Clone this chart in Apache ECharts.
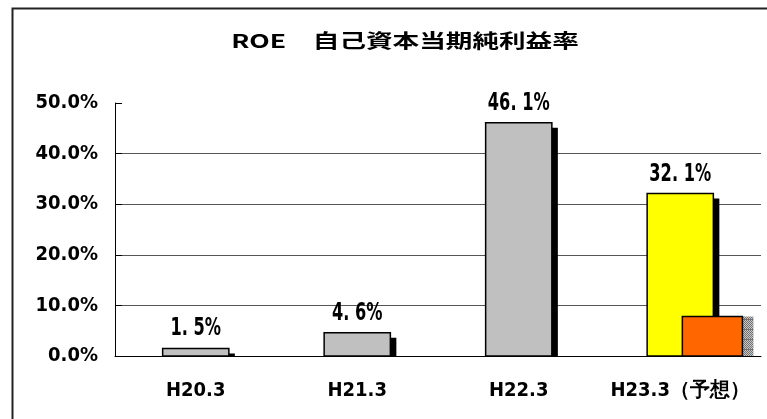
<!DOCTYPE html>
<html>
<head>
<meta charset="utf-8">
<script src="https://cdn.jsdelivr.net/npm/echarts@6/dist/echarts.min.js"></script>
<style>
  html, body { margin: 0; padding: 0; background: #fff; }
  #main { width: 767px; height: 419px; }
</style>
</head>
<body>
<div id="main"></div>
<script>
// ROE 自己資本当期純利益率
const categories = ['H20.3', 'H21.3', 'H22.3', 'H23.3（予想）'];
const roeValues = [1.5, 4.6, 46.1, 32.1];
const roeLabels = ['1. 5%', '4. 6%', '46. 1%', '32. 1%'];
const barColors = ['#c0c0c0', '#c0c0c0', '#c0c0c0', '#ffff00'];
const forecastValues = [null, null, null, 7.8];
const yMin = 0, yMax = 50, yStep = 10;

const numFont = '"DejaVu Sans Condensed", "DejaVu Sans", sans-serif';

// 網掛けの影
const hatch = document.createElement('canvas');
hatch.width = 2;
hatch.height = 10;
const hc = hatch.getContext('2d');
hc.fillStyle = '#c8c8c8';
hc.fillRect(0, 0, 2, 10);
hc.fillStyle = '#707070';
for (let y = 0; y < 10; y++) hc.fillRect(y % 2, y, 1, 1);
hc.fillRect(0, 9, 2, 1);

function renderBar(params, api) {
  const idx = api.value(0);
  const val = api.value(1);
  const top = api.coord([idx, val]);
  const base = api.coord([idx, 0]);
  const w = api.size([1, 0])[0] * 0.41;
  const x = top[0] - w / 2;
  const h = base[1] - top[1];
  return {
    type: 'group',
    children: [
      { type: 'rect', shape: { x: x + 6, y: top[1] + 5, width: w, height: Math.max(h - 5, 0) }, style: { fill: '#000' } },
      { type: 'rect', shape: { x: x, y: top[1], width: w, height: h }, style: { fill: barColors[idx], stroke: '#000', lineWidth: 1.5 } },
      {
        type: 'text', x: top[0], y: top[1] - 7, scaleX: 0.72,
        style: {
          text: roeLabels[idx], x: 0, y: 0, align: 'center', verticalAlign: 'bottom',
          fontSize: 25, fontWeight: 'bold', fontFamily: numFont, fill: '#000'
        }
      }
    ]
  };
}

function renderForecast(params, api) {
  const idx = api.value(0);
  const val = api.value(1);
  const top = api.coord([idx, val]);
  const base = api.coord([idx, 0]);
  const band = api.size([1, 0])[0];
  const x = top[0] + band * 0.013;
  const w = band * 0.372;
  const h = base[1] - top[1];
  return {
    type: 'group',
    children: [
      { type: 'rect', shape: { x: x + w, y: top[1], width: 11, height: h }, style: { fill: { type: 'pattern', image: hatch, repeat: 'repeat' } } },
      { type: 'rect', shape: { x: x, y: top[1], width: w, height: h }, style: { fill: '#ff6600', stroke: '#000', lineWidth: 1.5 } }
    ]
  };
}

const chart = echarts.init(document.getElementById('main'));
chart.setOption({
  animation: false,
  backgroundColor: '#fff',
  graphic: [
    { type: 'rect', shape: { x: 12.5, y: 8.5, width: 800, height: 500 }, style: { fill: 'none', stroke: '#222', lineWidth: 2 }, z: -1 },
    {
      type: 'text', x: 405, y: 41, scaleX: 1.4,
      style: {
        text: 'ROE　自己資本当期純利益率', x: 0, y: 0, align: 'center', verticalAlign: 'middle',
        fontSize: 19, fontWeight: 'bold', fontFamily: '"Noto Sans CJK JP", sans-serif', fill: '#000'
      }
    }
  ],
  grid: { left: 115, right: 6, top: 103, bottom: 63 },
  xAxis: {
    type: 'category',
    data: categories,
    axisLine: { lineStyle: { color: '#000', width: 1 } },
    axisTick: { inside: true, length: 6, lineStyle: { color: '#000' } },
    axisLabel: { interval: 0, color: '#000', fontSize: 20, fontWeight: 'bold', fontFamily: numFont, margin: 25 }
  },
  yAxis: {
    type: 'value',
    min: yMin,
    max: yMax,
    interval: yStep,
    axisLine: { show: true, lineStyle: { color: '#000', width: 1 } },
    axisTick: { show: true, inside: true, length: 7, lineStyle: { color: '#000' } },
    axisLabel: {
      color: '#000', fontSize: 20, fontWeight: 'bold', fontFamily: numFont, margin: 17,
      padding: [7, 0, 0, 0],
      formatter: v => v.toFixed(1) + '%'
    },
    splitLine: { show: true, showMaxLine: false, lineStyle: { color: '#555', width: 1 } }
  },
  series: [
    {
      name: 'ROE',
      type: 'custom',
      renderItem: renderBar,
      encode: { x: 0, y: 1 },
      data: roeValues.map((v, i) => [i, v])
    },
    {
      name: '予想',
      type: 'custom',
      renderItem: renderForecast,
      encode: { x: 0, y: 1 },
      data: forecastValues.map((v, i) => [i, v]).filter(d => d[1] !== null)
    }
  ]
});
</script>
</body>
</html>
